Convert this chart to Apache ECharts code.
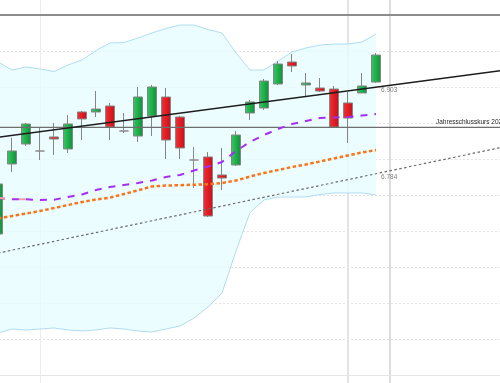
<!DOCTYPE html>
<html>
<head>
<meta charset="utf-8">
<script src="https://cdn.jsdelivr.net/npm/echarts@6/dist/echarts.min.js"></script>
<style>
html,body{margin:0;padding:0;background:#fff;}
#chart{width:500px;height:383px;}
</style>
</head>
<body>
<div id="chart"></div>
<script>
// ---------- DATA ----------
var categories = ['1','2','3','4','5','6','7','8','9','10','11','12','13','14','15','16','17','18','19','20',
  '21','22','23','24','25','26','27','28','29','30','31','32','33','34','35','36','37'];

var candleOpen  = [6695.8,6793.1,6820.8,6811.1,6830.6,6813.9,6865.3,6865.3,6873.6,6838.9,6831.9,6859.7,6886.1,6858.3,6798.6,6802.8,6777.8,6791.7,6863.9,6870.8,6904.2,6934.7,6902.8,6898.6,6897.2,6877.8,6891.7,6906.9];
var candleClose = [6765.3,6811.1,6848.6,6811.1,6827.8,6848.6,6855.6,6869.4,6844.4,6838.9,6886.1,6900.0,6826.4,6815.3,6798.6,6720.8,6773.6,6833.3,6879.2,6908.3,6931.9,6929.2,6905.6,6894.4,6844.4,6856.9,6901.4,6944.4];
var candleLow   = [6693.1,6781.9,6818.1,6798.6,6805.6,6808.3,6826.4,6858.3,6826.4,6836.1,6823.6,6831.9,6800.0,6800.0,6759.7,6719.4,6756.9,6790.3,6854.2,6868.1,6902.8,6920.8,6886.1,6893.1,6843.1,6822.2,6891.7,6905.6];
var candleHigh  = [6769.4,6829.2,6850.0,6843.1,6850.0,6861.1,6866.7,6894.4,6877.8,6863.9,6900.0,6902.8,6898.6,6859.7,6816.7,6809.7,6815.3,6838.9,6881.9,6911.1,6936.1,6945.8,6919.4,6912.5,6901.4,6893.1,6919.4,6947.2];

var bandUpper = [6934.7,6923.6,6927.8,6925.0,6921.5,6930.6,6937.5,6950.7,6961.1,6961.8,6968.1,6975.0,6981.2,6986.1,6986.1,6979.9,6975.0,6947.2,6923.6,6923.6,6936.1,6948.6,6954.2,6958.3,6959.7,6959.7,6962.5,6973.6];
var bandLower = [6558.3,6563.9,6562.5,6563.9,6565.3,6562.5,6561.1,6562.5,6565.3,6563.9,6561.1,6559.7,6563.9,6568.1,6579.2,6594.4,6613.9,6672.2,6725.7,6743.1,6747.2,6747.2,6747.2,6750.7,6752.8,6752.8,6752.8,6750.0];

var maPurple = [6745.8,6744.0,6744.0,6743.1,6743.5,6747.2,6750.7,6756.9,6761.1,6763.9,6766.7,6770.1,6775.0,6777.8,6784.0,6789.6,6795.8,6811.1,6823.6,6833.3,6841.7,6848.6,6852.8,6856.9,6857.6,6858.3,6860.4,6862.5];
var maSalmon = [6746.2,6744.3,6744.0,6743.1];
var maOrange = [6717.4,6720.8,6724.3,6727.8,6731.9,6736.1,6740.3,6743.7,6746.3,6751.4,6756.5,6761.9,6763.2,6763.5,6764.3,6765.0,6766.7,6770.1,6775.7,6780.6,6784.7,6788.9,6792.4,6796.5,6800.7,6804.9,6809.0,6812.5];

var trendBlack = [6830.1, 6923.1];   // at first and last category
var trendDotted = [6669.3, 6816.3];  // at first and last category
var yearClose = 6844.0;
var yearCloseLabel = 'Jahresschlusskurs 2023';
var trendLabelValues = [6903, 6784];
var trendLabelTexts = ['6.903', '6.784'];
var verticalMarks = ['4', '26', '29'];
var yMin = 6500, yMax = 7000, yStep = 50;

// ---------- CHART ----------
var chart = echarts.init(document.getElementById('chart'), null, {renderer: 'canvas'});
var last = categories.length - 1;
var candleData = candleOpen.map(function (o, i) {
  return [o, candleClose[i], candleLow[i], candleHigh[i]];
});
var bandDiff = bandUpper.map(function (u, i) { return +(u - bandLower[i]).toFixed(1); });

var FONT = 'Liberation Sans, Arial, sans-serif';
var upGrad = new echarts.graphic.LinearGradient(0, 0, 1, 0, [
  {offset: 0, color: '#3cc765'}, {offset: 0.5, color: '#1fae4b'}, {offset: 1, color: '#128c38'}]);
var downGrad = new echarts.graphic.LinearGradient(0, 0, 1, 0, [
  {offset: 0, color: '#f0343a'}, {offset: 0.5, color: '#e11d24'}, {offset: 1, color: '#c1121a'}]);

var option = {
  animation: false,
  backgroundColor: '#ffffff',
  grid: [
    {left: -9, right: -9, top: 15, bottom: 8, outerBoundsMode: 'none', containLabel: false},
    {left: -9, right: -9, top: 0, bottom: 0, outerBoundsMode: 'none', containLabel: false}
  ],
  xAxis: [
    {type: 'category', gridIndex: 0, data: categories, boundaryGap: true,
     axisLine: {show: true, lineStyle: {color: '#e6e6e6', width: 1}},
     axisTick: {show: false}, axisLabel: {show: false}, splitLine: {show: false}},
    {type: 'category', gridIndex: 1, data: categories, boundaryGap: true,
     axisLine: {show: false}, axisTick: {show: false}, axisLabel: {show: false}, splitLine: {show: false}}
  ],
  yAxis: [
    {type: 'value', gridIndex: 0, min: yMin, max: yMax, interval: yStep,
     axisLine: {show: false}, axisTick: {show: false}, axisLabel: {show: false},
     splitLine: {show: true, lineStyle: {type: [2, 2], color: '#e3e3e3', width: 1}}},
    {type: 'value', gridIndex: 1, min: 0, max: 1, show: false, splitLine: {show: false}}
  ],
  series: [
    // vertical separators, full height (behind candles)
    {type: 'line', xAxisIndex: 1, yAxisIndex: 1, data: [], silent: true, z: 0,
     markLine: {symbol: 'none', silent: true, label: {show: false}, z: 0,
       data: [
         {xAxis: verticalMarks[0], lineStyle: {color: '#ececf2', width: 1, type: 'solid'}},
         {xAxis: verticalMarks[1], lineStyle: {color: '#e2e2ee', width: 2, type: 'solid'}},
         {xAxis: verticalMarks[2], lineStyle: {color: '#d2d2d2', width: 1.5, type: 'solid'}}
       ]}},
    // Bollinger band lower (base)
    {type: 'line', name: 'bbLower', data: bandLower, stack: 'bb', symbol: 'none', silent: true,
     lineStyle: {color: '#b0dcf4', width: 1}, z: 1},
    // Bollinger band upper (stacked diff, filled)
    {type: 'line', name: 'bbUpper', data: bandDiff, stack: 'bb', symbol: 'none', silent: true,
     lineStyle: {color: '#b0dcf4', width: 1},
     areaStyle: {color: '#e6fdff', opacity: 0.8}, z: 1},
    // Candles
    {type: 'candlestick', data: candleData, barWidth: 10, z: 3,
     itemStyle: {color: upGrad, color0: downGrad, borderColor: '#858585', borderColor0: '#858585',
                 borderColorDoji: '#8a8a8a', borderWidth: 1}},
    // year close line
    {type: 'line', data: [[0, yearClose], [last, yearClose]], symbol: 'none', silent: true, z: 4,
     lineStyle: {color: '#6e6e6e', width: 1.2},
     markPoint: {symbol: 'circle', symbolSize: 0, silent: true,
       data: [{coord: [categories[31], yearClose],
               label: {show: true, position: 'right', distance: 4, offset: [0, -5],
                       formatter: yearCloseLabel, color: '#2a2a2a', fontSize: 6.5, fontFamily: FONT}}]},
     markLine: {symbol: 'none', silent: true, label: {show: false},
       data: [{yAxis: yMax, lineStyle: {color: '#8c8c8c', width: 2, type: 'solid'}}]}},
    // dotted trend
    {type: 'line', data: [[0, trendDotted[0]], [last, trendDotted[1]]], symbol: 'none', silent: true, z: 5,
     lineStyle: {color: '#6a6a6a', width: 1.2, type: [2.5, 2.5]},
     markPoint: {symbol: 'circle', symbolSize: 0, silent: true,
       data: [{coord: [categories[27], trendLabelValues[1]],
               label: {show: true, position: 'right', distance: 5, offset: [0, 6.5],
                       formatter: trendLabelTexts[1], color: '#808080', fontSize: 6.5, fontFamily: FONT}}]}},
    // black trend
    {type: 'line', data: [[0, trendBlack[0]], [last, trendBlack[1]]], symbol: 'none', silent: true, z: 5,
     lineStyle: {color: '#1c1c1c', width: 1.5},
     markPoint: {symbol: 'circle', symbolSize: 0, silent: true,
       data: [{coord: [categories[27], trendLabelValues[0]],
               label: {show: true, position: 'right', distance: 5, offset: [0, 5],
                       formatter: trendLabelTexts[0], color: '#808080', fontSize: 6.5, fontFamily: FONT}}]}},
    // orange MA
    {type: 'line', data: maOrange, symbol: 'none', silent: true, z: 5,
     lineStyle: {color: '#ff7214', width: 2.5, type: [3.5, 2.5]}},
    // purple MA
    {type: 'line', data: maPurple, symbol: 'none', silent: true, z: 5,
     lineStyle: {color: '#a52ef5', width: 2, type: [7, 7]}},
    // salmon MA fragment
    {type: 'line', data: maSalmon, symbol: 'none', silent: true, z: 6,
     lineStyle: {color: '#f0a0a0', width: 2, type: [7, 14], dashOffset: 0}}
  ]
};
chart.setOption(option);
</script>
</body>
</html>
